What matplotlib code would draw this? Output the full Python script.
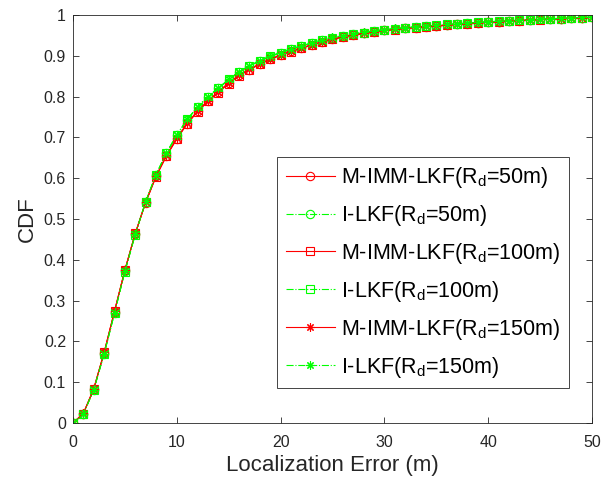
import matplotlib
matplotlib.use('Agg')
import matplotlib.pyplot as plt
import numpy as np

# localization error (m)
err = list(range(0, 51))

# CDF values
mimm_50 = [0, 0.023, 0.083, 0.172, 0.273, 0.374, 0.464, 0.540, 0.605, 0.655,
           0.697, 0.734, 0.764, 0.789, 0.811, 0.833, 0.852, 0.866, 0.880, 0.892,
           0.902, 0.911, 0.919, 0.927, 0.934, 0.941, 0.946, 0.951, 0.955, 0.959,
           0.962, 0.965, 0.967, 0.969, 0.971, 0.973, 0.975, 0.977, 0.979, 0.981,
           0.982, 0.984, 0.985, 0.986, 0.988, 0.989, 0.990, 0.991, 0.992, 0.993, 0.994]
ilkf_50 = [0, 0.022, 0.082, 0.170, 0.270, 0.372, 0.463, 0.542, 0.608, 0.661,
           0.705, 0.743, 0.774, 0.799, 0.820, 0.841, 0.860, 0.875, 0.887, 0.898,
           0.907, 0.916, 0.923, 0.931, 0.938, 0.944, 0.948, 0.953, 0.957, 0.960,
           0.963, 0.966, 0.968, 0.970, 0.972, 0.974, 0.976, 0.978, 0.980, 0.981,
           0.983, 0.984, 0.986, 0.987, 0.988, 0.989, 0.990, 0.991, 0.992, 0.993, 0.994]
mimm_100 = [0, 0.023, 0.084, 0.173, 0.274, 0.375, 0.465, 0.541, 0.604, 0.654,
            0.696, 0.733, 0.763, 0.788, 0.810, 0.832, 0.851, 0.866, 0.879, 0.891,
            0.901, 0.910, 0.918, 0.926, 0.933, 0.940, 0.946, 0.950, 0.955, 0.958,
            0.962, 0.964, 0.967, 0.969, 0.971, 0.973, 0.975, 0.977, 0.979, 0.980,
            0.982, 0.983, 0.985, 0.986, 0.987, 0.988, 0.990, 0.991, 0.992, 0.993, 0.994]
ilkf_100 = [0, 0.022, 0.081, 0.169, 0.269, 0.371, 0.462, 0.542, 0.609, 0.662,
            0.706, 0.744, 0.775, 0.800, 0.821, 0.842, 0.861, 0.875, 0.888, 0.899,
            0.908, 0.916, 0.924, 0.931, 0.938, 0.944, 0.949, 0.953, 0.957, 0.961,
            0.964, 0.966, 0.969, 0.971, 0.973, 0.975, 0.977, 0.978, 0.980, 0.982,
            0.983, 0.985, 0.986, 0.987, 0.988, 0.989, 0.990, 0.991, 0.992, 0.993, 0.995]
mimm_150 = [0, 0.024, 0.084, 0.173, 0.274, 0.375, 0.465, 0.541, 0.605, 0.656,
            0.698, 0.735, 0.765, 0.790, 0.812, 0.834, 0.853, 0.867, 0.881, 0.892,
            0.902, 0.911, 0.919, 0.927, 0.934, 0.941, 0.946, 0.951, 0.955, 0.959,
            0.962, 0.965, 0.967, 0.970, 0.972, 0.974, 0.975, 0.977, 0.979, 0.981,
            0.982, 0.984, 0.985, 0.987, 0.988, 0.989, 0.990, 0.991, 0.992, 0.993, 0.994]
ilkf_150 = [0, 0.022, 0.082, 0.170, 0.270, 0.372, 0.463, 0.543, 0.609, 0.662,
            0.706, 0.744, 0.775, 0.800, 0.821, 0.842, 0.861, 0.876, 0.888, 0.899,
            0.908, 0.917, 0.924, 0.932, 0.939, 0.945, 0.949, 0.954, 0.958, 0.961,
            0.964, 0.967, 0.969, 0.971, 0.973, 0.975, 0.977, 0.979, 0.980, 0.982,
            0.983, 0.985, 0.986, 0.987, 0.988, 0.990, 0.991, 0.992, 0.993, 0.994, 0.995]

labels = ['M-IMM-LKF(R$_\\mathregular{d}$=50m)', 'I-LKF(R$_\\mathregular{d}$=50m)',
          'M-IMM-LKF(R$_\\mathregular{d}$=100m)', 'I-LKF(R$_\\mathregular{d}$=100m)',
          'M-IMM-LKF(R$_\\mathregular{d}$=150m)', 'I-LKF(R$_\\mathregular{d}$=150m)']

plt.rcParams['font.family'] = ['Liberation Sans', 'DejaVu Sans']
plt.rcParams['mathtext.default'] = 'regular'

fig = plt.figure(figsize=(6.16, 4.79), dpi=100)
ax = fig.add_axes([0.1185, 0.1169, 0.8425, 0.8518])

series = [mimm_50, ilkf_50, mimm_100, ilkf_100, mimm_150, ilkf_150]
# MATLAB style asterisk: 8 spokes
markers = ['o', 'o', 's', 's', (8, 2, 0), (8, 2, 0)]
for i, y in enumerate(series):
    if i % 2 == 0:
        col, ls = '#ff0000', '-'
    else:
        col, ls = '#00ff00', '-.'
    ax.plot(err, y, color=col, linestyle=ls, linewidth=0.8, marker=markers[i],
            markersize=6, markerfacecolor='none', markeredgewidth=0.8,
            label=labels[i])

ax.set_xlim(0, 50)
ax.set_ylim(0, 1)
ax.set_xticks(np.arange(0, 51, 10))
ax.set_yticks(np.arange(0, 1.01, 0.1))
ax.set_yticklabels(['0', '0.1', '0.2', '0.3', '0.4', '0.5', '0.6', '0.7', '0.8', '0.9', '1'])
ax.tick_params(direction='in', top=True, right=True, labelsize=11.5, length=4,
               color='#262626', labelcolor='#262626', width=0.6, pad=5)
ax.tick_params(axis='x', pad=8.5)
for s in ax.spines.values():
    s.set_color('#262626')
    s.set_linewidth(0.6)

ax.set_xlabel('Localization Error (m)', fontsize=16, color='#262626', labelpad=4)
ax.set_ylabel('CDF', fontsize=16, color='#262626', labelpad=4)

leg = ax.legend(loc='lower right', bbox_to_anchor=(0.955, 0.085), fontsize=15.5,
                fancybox=False, edgecolor='#262626', framealpha=1,
                handlelength=2.3, labelspacing=0.6, borderpad=0.4,
                handletextpad=0.25, borderaxespad=0)
leg.get_frame().set_linewidth(0.6)

fig.savefig('out.png', dpi=100)
